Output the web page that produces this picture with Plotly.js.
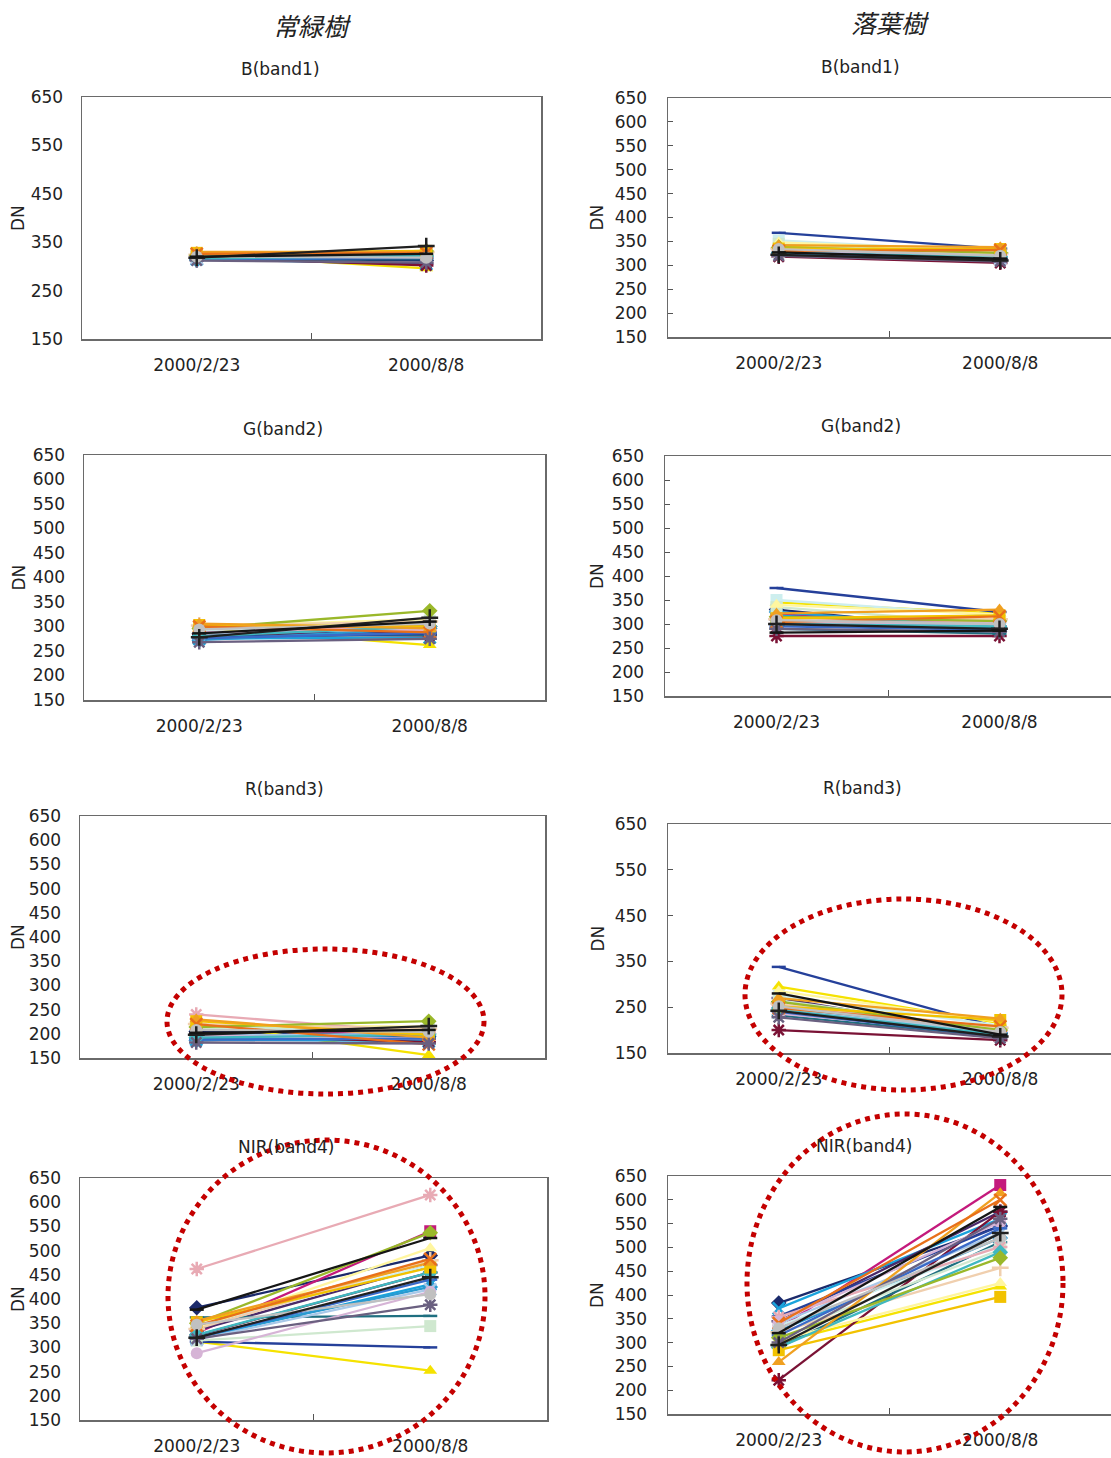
<!DOCTYPE html>
<html><head><meta charset="utf-8">
<script src="https://cdn.plot.ly/plotly-3.0.1.min.js"></script>
<style>html,body{margin:0;padding:0;background:#fff}</style>
</head><body><div id="chart" style="width:1111px;height:1458px"></div>
<script>
// ---------------- DATA ----------------
const dates = ['2000/2/23', '2000/8/8'];
const bandTitles = ['B(band1)', 'G(band2)', 'R(band3)', 'NIR(band4)'];
const groupTitles = ['常緑樹', '落葉樹'];
const seriesNames = ['S1','S2','S3','S4','S5','S6','S7','S8','S9','S10','S11','S12','S13',
  'S14','S15','S16','S17','S18','S19','S20','S21','S22','S23','S24','S25','S26'];

// 常緑樹 (evergreen)
const evgB_feb   = [318,320,325,315,316,318,314,315,313,320,322,324,316,322,318,324,315,316,323,328,330,326,312,320,318,320];
const evgB_aug   = [312,318,296,305,306,302,315,317,320,325,328,330,320,322,324,330,318,322,332,332,330,328,308,318,342,326];
const evgG_feb   = [285,290,298,275,282,284,280,278,272,292,295,300,285,300,288,302,276,280,296,303,306,300,268,294,278,286];
const evgG_aug   = [300,305,262,278,290,282,283,285,296,308,312,315,298,292,295,310,287,300,332,300,296,288,275,306,318,310];
const evgR_feb   = [205,210,222,188,200,198,192,190,186,210,212,218,196,240,196,220,188,192,214,226,230,220,182,208,198,202];
const evgR_aug   = [195,200,156,185,190,183,192,195,200,210,212,215,200,202,190,210,190,198,226,198,192,178,180,204,216,208];
const evgNIR_feb = [382,330,312,318,335,325,362,312,322,345,314,340,316,462,288,338,320,326,350,352,355,345,318,347,320,378];
const evgNIR_aug = [490,540,252,430,470,455,365,300,425,470,344,505,420,615,415,480,440,455,537,465,475,483,388,410,445,526];

// 落葉樹 (deciduous)
const decB_feb   = [335,330,340,332,325,318,322,368,326,352,345,348,328,332,330,335,324,326,338,335,342,330,320,334,322,327];
const decB_aug   = [315,318,330,320,312,305,310,335,318,328,322,330,315,320,322,325,312,318,326,334,338,332,308,320,310,314];
const decG_feb   = [330,320,345,318,310,275,290,375,325,350,335,340,305,300,298,310,295,300,315,312,322,304,290,308,300,282];
const decG_aug   = [285,300,322,290,295,275,280,325,292,318,300,320,298,305,302,310,288,295,306,318,330,316,284,300,290,286];
const decR_feb   = [262,250,295,240,270,200,232,338,248,275,265,285,245,255,236,258,240,244,262,252,270,248,228,252,242,280];
const decR_aug   = [192,200,215,190,188,178,185,205,195,210,200,218,195,198,192,205,185,190,200,222,225,208,182,196,186,190];
const decNIR_feb = [383,330,300,372,345,221,290,355,325,335,318,305,340,354,345,322,315,290,310,284,259,341,300,330,295,320];
const decNIR_aug = [545,631,418,560,575,575,511,545,520,505,495,425,530,501,553,457,540,490,478,396,614,600,560,520,530,585];

// ---------------- STYLES ----------------
const seriesColors = ['#1b2a6b','#c41a7c','#f5e200','#1aa3dc','#4a2a6a','#7a1235','#1f6f80','#25409a',
  '#2a9ad0','#cdeeee','#cfe8cf','#fff6a0','#a8c8e8','#e8aab4','#d6b4d6','#f0cfae','#3a6ac8','#40b8c0',
  '#9ab82a','#f2c200','#f0a020','#e8701a','#6a6080','#c0c0c0','#202020','#151515'];
const seriesSymbols = ['diamond','square','triangle-up','x-thin-open','asterisk-open','asterisk-open','line-ew-open','line-ew-open',
  'diamond','square','square','triangle-up','x-thin-open','asterisk-open','circle','cross-thin-open','line-ew-open','diamond',
  'diamond','square','triangle-up','x-thin-open','asterisk-open','circle','cross-thin-open','line-ew-open'];

const panels = [
  [[evgB_feb, evgB_aug], [decB_feb, decB_aug]],
  [[evgG_feb, evgG_aug], [decG_feb, decG_aug]],
  [[evgR_feb, evgR_aug], [decR_feb, decR_aug]],
  [[evgNIR_feb, evgNIR_aug], [decNIR_feb, decNIR_aug]]
];

// pixel layout of each panel frame: [left, right, top, bottom]
const W = 1111, H = 1458;
const frames = [
  [[82,541,97,339],   [668,1113,98,337]],
  [[84,545,455,700],  [665,1113,456,696]],
  [[80,545,816,1058], [668,1113,824,1053]],
  [[80,547,1178,1420],[668,1113,1176,1414]]
];
const dticks = [[100,50],[50,50],[50,100],[50,50]];
const titlePos = [[[280,69],[860,67]],[[283,429],[861,426]],[[284,789],[862,788]],[[286,1147],[864,1146]]];

const font = "'DejaVu Sans', 'Noto Sans', sans-serif";
const cjkFont = "'Noto Sans CJK JP', sans-serif";
const traces = [];
const layout = {
  width: W, height: H, margin: {l:0, r:0, t:0, b:0},
  paper_bgcolor: '#fff', plot_bgcolor: '#fff', showlegend: false,
  font: {family: font, size: 17, color: '#222'},
  annotations: [], shapes: []
};

for (let b = 0; b < 4; b++) {
  for (let c = 0; c < 2; c++) {
    const n = b * 2 + c + 1;
    const xa = n === 1 ? 'x' : 'x' + n, ya = n === 1 ? 'y' : 'y' + n;
    const [feb, aug] = panels[b][c];
    for (let i = 0; i < feb.length; i++) {
      const sym = seriesSymbols[i];
      const open = sym.endsWith('-open');
      traces.push({
        type: 'scatter', mode: 'lines+markers', name: seriesNames[i],
        x: dates, y: [feb[i], aug[i]], xaxis: xa, yaxis: ya,
        line: {color: seriesColors[i], width: 2.3},
        marker: {symbol: sym, size: sym === 'line-ew-open' ? 10 : 12, color: seriesColors[i],
                 line: {color: seriesColors[i], width: open ? 2.5 : 0}}
      });
    }
    const f = frames[b][c];
    const axCommon = {showline: true, mirror: true, linecolor: '#6a6a6a', linewidth: 1.5,
      showgrid: false, zeroline: false, tickfont: {family: font, size: 17, color: '#222'}};
    layout[n === 1 ? 'xaxis' : 'xaxis' + n] = Object.assign({}, axCommon, {
      domain: [f[0] / W, Math.min(1, f[1] / W)], anchor: ya, type: 'category',
      range: [-0.5, 1.5], tickson: 'boundaries', ticks: 'inside', ticklen: 6, tickcolor: '#555',
      ticklabelstandoff: 10
    });
    layout[n === 1 ? 'yaxis' : 'yaxis' + n] = Object.assign({}, axCommon, {
      domain: [1 - f[3] / H, 1 - f[2] / H], anchor: xa, range: [150, 650],
      tick0: 150, dtick: dticks[b][c], ticks: c === 1 ? 'inside' : '', ticklen: 5, tickcolor: '#555',
      ticklabelstandoff: c === 0 ? 14 : 16
    });
    // subplot title
    layout.annotations.push({xref: 'paper', yref: 'paper', x: titlePos[b][c][0] / W, y: 1 - titlePos[b][c][1] / H,
      text: bandTitles[b], showarrow: false, xanchor: 'center', yanchor: 'middle',
      font: {family: font, size: 17, color: '#222'}});
    // DN axis label
    layout.annotations.push({xref: 'paper', yref: 'paper', x: (c === 0 ? 18 : 597) / W,
      y: 1 - ((f[2] + f[3]) / 2) / H, text: 'DN', textangle: -90, showarrow: false,
      xanchor: 'center', yanchor: 'middle', font: {family: font, size: 17, color: '#222'}});
  }
}
// column titles
layout.annotations.push({xref:'paper', yref:'paper', x: 312 / W, y: 1 - 25 / H, text: '<i>' + groupTitles[0] + '</i>',
  showarrow: false, xanchor: 'center', yanchor: 'middle', font: {family: cjkFont, size: 25, color: '#222'}});
layout.annotations.push({xref:'paper', yref:'paper', x: 890 / W, y: 1 - 22 / H, text: '<i>' + groupTitles[1] + '</i>',
  showarrow: false, xanchor: 'center', yanchor: 'middle', font: {family: cjkFont, size: 25, color: '#222'}});

// red dotted ellipses (pixel boxes)
const ellipses = [[167,484,949,1094],[745,1062,899,1090],[168,485,1140,1453],[747,1063,1114,1452]];
ellipses.forEach(e => layout.shapes.push({type: 'circle', xref: 'paper', yref: 'paper',
  x0: e[0] / W, x1: e[1] / W, y0: 1 - e[3] / H, y1: 1 - e[2] / H,
  line: {color: '#c40000', width: 5, dash: 'dot'}}));

Plotly.newPlot('chart', traces, layout, {staticPlot: true});
</script></body></html>
